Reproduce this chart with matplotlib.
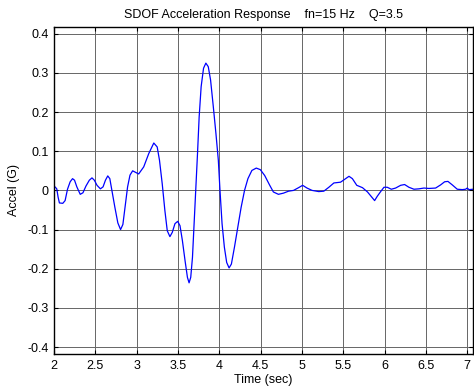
import matplotlib
matplotlib.use("Agg")
import matplotlib.pyplot as plt

# values
time_s = [2.004, 2.012, 2.033, 2.049, 2.065, 2.106, 2.134, 2.163, 2.195, 2.224,
          2.248, 2.276, 2.317, 2.350, 2.386, 2.427, 2.459, 2.488, 2.520, 2.561,
          2.593, 2.622, 2.650, 2.675, 2.703, 2.736, 2.772, 2.805, 2.833, 2.862,
          2.890, 2.919, 2.951, 2.988, 3.024, 3.085, 3.146, 3.207, 3.248, 3.276,
          3.309, 3.341, 3.370, 3.402, 3.431, 3.463, 3.496, 3.524, 3.553, 3.585,
          3.614, 3.634, 3.654, 3.675, 3.695, 3.715, 3.736, 3.756, 3.780, 3.809,
          3.837, 3.866, 3.894, 3.927, 3.959, 3.988, 4.008, 4.033, 4.061, 4.089,
          4.118, 4.146, 4.183, 4.224, 4.264, 4.305, 4.346, 4.394, 4.447, 4.496,
          4.549, 4.610, 4.654, 4.715, 4.776, 4.837, 4.898, 4.959, 5.008, 5.061,
          5.122, 5.203, 5.264, 5.325, 5.386, 5.467, 5.528, 5.569, 5.610, 5.663,
          5.732, 5.793, 5.851, 5.879, 5.911, 5.952, 5.992, 6.032, 6.081, 6.133,
          6.194, 6.242, 6.294, 6.355, 6.415, 6.476, 6.536, 6.617, 6.677, 6.726,
          6.766, 6.819, 6.879, 6.940, 6.980, 7.000, 7.020, 7.070]
accel_g = [0.006, 0.009, 0.004, -0.017, -0.032, -0.033, -0.026, 0.003, 0.022, 0.030,
           0.026, 0.009, -0.010, -0.006, 0.011, 0.026, 0.032, 0.026, 0.013, 0.004,
           0.009, 0.026, 0.037, 0.030, -0.004, -0.043, -0.083, -0.100, -0.087, -0.039,
           0.009, 0.039, 0.050, 0.046, 0.042, 0.060, 0.094, 0.121, 0.111, 0.077,
           0.017, -0.051, -0.103, -0.118, -0.107, -0.085, -0.079, -0.090, -0.128, -0.179,
           -0.222, -0.236, -0.222, -0.171, -0.085, 0.000, 0.094, 0.188, 0.265, 0.312,
           0.325, 0.316, 0.282, 0.214, 0.145, 0.077, 0.000, -0.085, -0.145, -0.184,
           -0.198, -0.188, -0.145, -0.094, -0.043, 0.000, 0.030, 0.051, 0.057, 0.053,
           0.038, 0.013, -0.004, -0.010, -0.007, -0.002, 0.000, 0.007, 0.013, 0.006,
           0.000, -0.003, -0.002, 0.008, 0.019, 0.021, 0.030, 0.036, 0.030, 0.013,
           0.007, -0.004, -0.019, -0.026, -0.015, -0.003, 0.008, 0.008, 0.003, 0.006,
           0.013, 0.015, 0.008, 0.003, 0.004, 0.006, 0.005, 0.006, 0.014, 0.022,
           0.023, 0.014, 0.003, 0.002, 0.003, 0.006, 0.002, 0.003]

x_ticks = [2, 2.5, 3, 3.5, 4, 4.5, 5, 5.5, 6, 6.5, 7]
x_tick_labels = ["2", "2.5", "3", "3.5", "4", "4.5", "5", "5.5", "6", "6.5", "7"]
y_ticks = [-0.4, -0.3, -0.2, -0.1, 0, 0.1, 0.2, 0.3, 0.4]
y_tick_labels = ["-0.4", "-0.3", "-0.2", "-0.1", "0", "0.1", "0.2", "0.3", "0.4"]

plt.rcParams["font.family"] = ["Liberation Sans", "DejaVu Sans"]
plt.rcParams["font.size"] = 9

fig = plt.figure(figsize=(4.74, 3.87), dpi=100)
ax = fig.add_axes([0.114, 0.085, 0.884, 0.846])

ax.plot(time_s, accel_g, color="#0000ff", lw=0.9)

ax.set_xlim(2, 7.07)
ax.set_ylim(-0.418, 0.418)
ax.set_xticks(x_ticks)
ax.set_xticklabels(x_tick_labels)
ax.set_yticks(y_ticks)
ax.set_yticklabels(y_tick_labels)
ax.grid(True, color="0.4", lw=0.7)
ax.tick_params(direction="in", top=True, right=True, length=3, width=0.8,
               pad=4, labelsize=9)
for s in ax.spines.values():
    s.set_linewidth(1.0)

ax.set_xlabel("Time (sec)", labelpad=2)
ax.set_ylabel("Accel (G)", labelpad=5)
ax.set_title("SDOF Acceleration Response    fn=15 Hz    Q=3.5", fontsize=9, pad=6)

fig.savefig("out.png", dpi=100)
